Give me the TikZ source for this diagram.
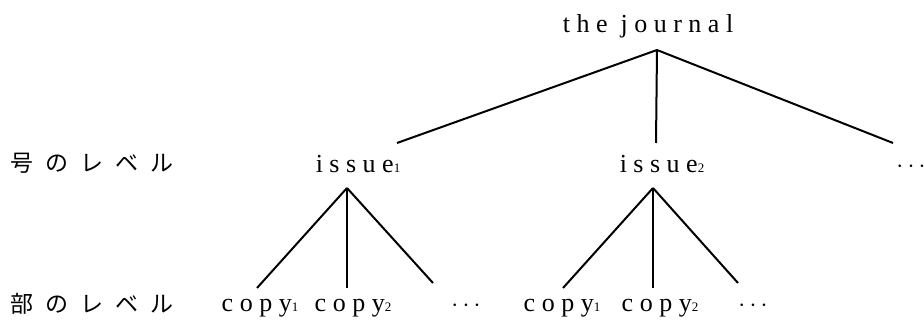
\documentclass[tikz,border=0pt]{standalone}
\usepackage{fontspec}
\setmainfont{Liberation Serif}[LetterSpace=25]
\newfontfamily\jp{Noto Sans CJK JP}[LetterSpace=52]
\newcommand\smalldigit[1]{{\fontsize{13}{13}\selectfont #1}}
\tikzset{
  lbl/.style={anchor=base, inner sep=0pt, font=\fontsize{26}{26}\selectfont},
  jlbl/.style={anchor=base west, inner sep=0pt, font=\jp\fontsize{23}{23}\selectfont},
  edge/.style={line width=2pt}
}
\begin{document}
\begin{tikzpicture}[x=1pt,y=-1pt]
\useasboundingbox (0,0) rectangle (924,320);
% nodes
\node[lbl] (root) at (648,33) {the journal};
\node[lbl] (i1) at (358,173) {issue\smalldigit{1}};
\node[lbl] (i2) at (662,173) {issue\smalldigit{2}};
\node[lbl] (idots) at (911,173) {$\cdots$};
\node[lbl] (c11) at (260,312) {copy\smalldigit{1}};
\node[lbl] (c12) at (353,312) {copy\smalldigit{2}};
\node[lbl] (c1d) at (466,312) {$\cdots$};
\node[lbl] (c21) at (562,312) {copy\smalldigit{1}};
\node[lbl] (c22) at (660,312) {copy\smalldigit{2}};
\node[lbl] (c2d) at (753,312) {$\cdots$};
\node[jlbl] (lab1) at (10,172) {号のレベル};
\node[jlbl] (lab2) at (10,313) {部のレベル};
% connector ends
\coordinate (r) at (657,50);
\coordinate (i1t) at (397,143);
\coordinate (i2t) at (656,143);
\coordinate (idt) at (893,143);
\coordinate (a1) at (347,188);
\coordinate (a2) at (653,188);
\coordinate (c11t) at (257,288);
\coordinate (c12t) at (347,288);
\coordinate (c1dt) at (433,283);
\coordinate (c21t) at (563,288);
\coordinate (c22t) at (653,288);
\coordinate (c2dt) at (738,283);
\draw[edge] (r) -- (i1t);
\draw[edge] (r) -- (i2t);
\draw[edge] (r) -- (idt);
\draw[edge] (a1) -- (c11t);
\draw[edge] (a1) -- (c12t);
\draw[edge] (a1) -- (c1dt);
\draw[edge] (a2) -- (c21t);
\draw[edge] (a2) -- (c22t);
\draw[edge] (a2) -- (c2dt);
\end{tikzpicture}
\end{document}
